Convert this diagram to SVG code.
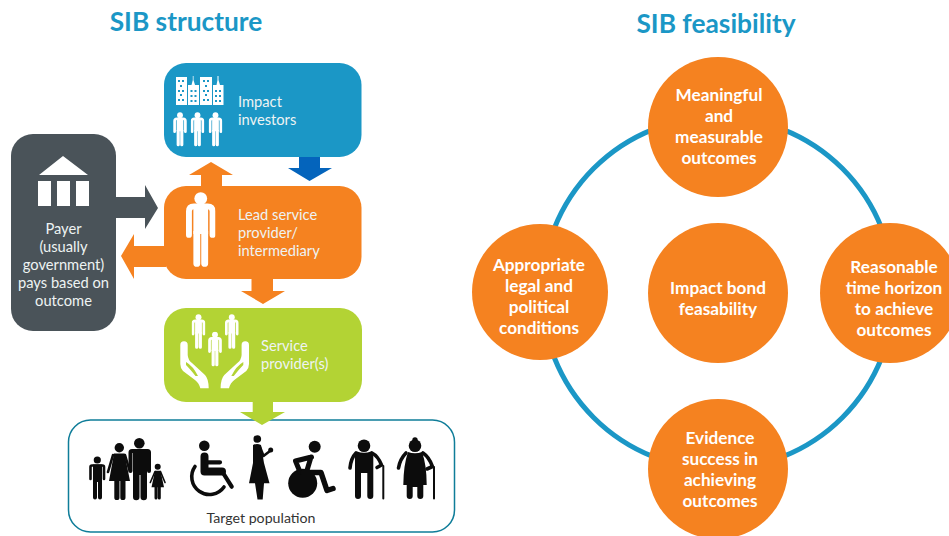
<svg xmlns="http://www.w3.org/2000/svg" xmlns:xlink="http://www.w3.org/1999/xlink" width="949" height="536" viewBox="0 0 949 536">
<style>
text{font-family:Lato,"Noto Sans","Liberation Sans",sans-serif}
.title{font-size:26.300px;font-weight:700;fill:#1b97c6;text-anchor:middle}
.lbl{font-size:14.700px;fill:#eef3f3}
.mid{text-anchor:middle}
.ct{font-size:17.200px;font-weight:700;fill:#fff;text-anchor:middle}
.o{fill:#f58220}.w{fill:#fff}.k{fill:#0c0c0c}
.ks{fill:none;stroke:#0c0c0c;stroke-linecap:round;stroke-linejoin:round}
.ring{fill:none;stroke:#1b97c6;stroke-width:5}
</style>
<defs>
<symbol id="person" viewBox="0 0 30 78">
<circle cx="15" cy="7" r="6.500" fill="#fff"/>
<path d="M3 44V20Q3 15 8 15H22Q27 15 27 20V44" fill="none" stroke="#fff" stroke-width="6" stroke-linecap="round"/>
<path d="M7.500 15H22.500V43H7.500Z" fill="#fff"/>
<path d="M7.500 40H14.500V73a3.500 3.500 0 0 1-7 0ZM15.500 40H22.500V73a3.500 3.500 0 0 1-7 0Z" fill="#fff"/>
</symbol>
<g id="win"><rect width="2" height="2"/><rect x="4" width="2" height="2"/></g>
<path id="hand" fill="#fff" fill-rule="evenodd" d="M180.300 345a3.700 3.700 0 0 1 7.400 0V355Q188 360 192 363L205 375Q208.700 379 208.700 388.300H200.300Q199 383 195 380L183 371Q180.300 368 180.300 364ZM186 362Q193 366 198 376L195.500 376Q190 369 186 365Z"/>
</defs>

<text class="title" x="186" y="31">SIB structure</text>
<text class="title" x="716" y="33">SIB feasibility</text>

<g id="connectors">
<path fill="#f58220" d="M201 186V175H189L211 162L233 175H222V186Z"/>
<path fill="#0464bc" d="M299 157H320V168H332L309.500 181L288 168H299Z"/>
<path fill="#f58220" d="M251.500 279H273V291H285L263 304L241 291H251.500Z"/>
<path fill="#4a5359" d="M116 197H145V185L158 208L145 229V218H116Z"/>
<path fill="#f58220" d="M166 246H134V234L121 256L134 279V267H166Z"/>
</g>

<g id="node-investors">
<rect x="164" y="63" width="197.500" height="94" rx="22" fill="#1b97c6"/>
<g fill="#fff">
<path d="M176 77H187V105H176ZM188 85H191.500L192.800 80V76H193.500V80L195 85H199V105H188ZM200 77H212V105H200ZM213 85H216.500L217.500 80V76H218.500V80L220 85H223.500V105H213Z"/>
</g>
<g fill="#1b97c6">
<use xlink:href="#win" x="178" y="80"/><use xlink:href="#win" x="178" y="90"/><use xlink:href="#win" x="178" y="99"/><rect x="180" y="85" width="2" height="2"/><rect x="180" y="94" width="2" height="2"/>
<use xlink:href="#win" x="190.500" y="90"/><use xlink:href="#win" x="190.500" y="95"/><use xlink:href="#win" x="190.500" y="100"/>
<use xlink:href="#win" x="203" y="80"/><use xlink:href="#win" x="203" y="90"/><use xlink:href="#win" x="203" y="99"/><rect x="205" y="85" width="2" height="2"/><rect x="205" y="94" width="2" height="2"/>
<use xlink:href="#win" x="215" y="90"/><use xlink:href="#win" x="215" y="95"/><use xlink:href="#win" x="215" y="100"/>
</g>
<use xlink:href="#person" x="173" y="112" width="14" height="35"/>
<use xlink:href="#person" x="190.500" y="112" width="14" height="35"/>
<use xlink:href="#person" x="208.500" y="112" width="14" height="35"/>
<text class="lbl" x="238" y="107">Impact</text>
<text class="lbl" x="238" y="125">investors</text>
</g>

<g id="node-lead">
<rect x="164" y="186" width="197.500" height="93" rx="22" fill="#f58220"/>
<use xlink:href="#person" x="186" y="191" width="29.500" height="78"/>
<text class="lbl" x="238" y="220">Lead service</text>
<text class="lbl" x="238" y="238">provider/</text>
<text class="lbl" x="238" y="256">intermediary</text>
</g>

<g id="node-payer">
<rect x="11" y="134" width="105" height="197" rx="22" fill="#4a5359"/>
<path class="w" d="M39 175L63 156L88 175ZM38 181H51V206H38ZM57 181H70V206H57ZM76 181H89V206H76Z"/>
<g class="lbl mid">
<text x="63.500" y="234">Payer</text>
<text x="63.500" y="252">(usually</text>
<text x="63.500" y="270">government)</text>
<text x="63.500" y="288">pays based on</text>
<text x="63.500" y="306">outcome</text>
</g>
</g>

<g id="node-population">
<rect x="68.500" y="420" width="386" height="112" rx="22" fill="#fff" stroke="#0f7d99" stroke-width="1.500"/>
<path fill="#b3d334" d="M252.700 402H273V412H285L262 425L240 412H252.700Z"/>
<g id="family" class="k">
<circle cx="119.300" cy="447.700" r="4.700"/>
<path d="M114 453.500H124.500L130 481H125.500V497.500a2.600 2.600 0 0 1-5.200 0V481H119.500V497.500a2.600 2.600 0 0 1-5.200 0V481H109Z"/>
<path class="ks" stroke-width="2.600" d="M113 455L108 472M125 455L130 472"/>
<circle cx="139.300" cy="443.300" r="5.300"/>
<path fill="#fff" d="M129 450H150V474H129Z"/>
<path d="M133 449H147V497a3 3 0 0 1-6.500 0V475H139.500V497a3 3 0 0 1-6.500 0Z"/>
<path class="ks" stroke-width="4" d="M130.500 471V452.500Q130.500 451 132 451H147.500Q149 451 149 452.500V471"/>
<circle cx="97.300" cy="460" r="3.600"/>
<path d="M93 464.500H102V497.500a2 2 0 0 1-4 0V482H97V497.500a2 2 0 0 1-4 0Z"/>
<path class="ks" stroke-width="2.600" d="M90.500 479V467Q90.500 465.500 92 465.500H102.500Q104 465.500 104 467V479"/>
<circle cx="157.700" cy="466.700" r="3"/>
<path d="M155 470.700H160.500L164 487.300H160.800V498a1.500 1.500 0 0 1-3 0V487.300H157.500V498a1.500 1.500 0 0 1-3 0V487.300H151.500Z"/>
<path class="ks" stroke-width="1.600" d="M155 471.500L150.300 482.500M160.500 471.500L165 482.500"/>
</g>
<g id="wheelchair">
<circle class="k" cx="204.300" cy="445.700" r="5.300"/>
<path class="ks" stroke-width="8" d="M204.500 456.500V471.500H222"/>
<path class="ks" stroke-width="4.200" d="M206 462.300H220M222.500 472L231.700 486.700"/>
<path class="ks" stroke-width="3.600" d="M195 466.500A15.800 15.800 0 1 0 224 487" stroke-linecap="butt"/>
</g>
<g id="woman-baby" class="k">
<circle cx="257.300" cy="439" r="3.800"/><circle cx="270.700" cy="450" r="2.500"/>
<path d="M253 445Q257 443 261 445L264 463L269.500 483.300H264L262.700 499.500H257.500L255 483.300H249L253 463Z"/>
<path class="ks" stroke-width="2.600" d="M260 447L263.500 456L270 451"/>
</g>
<g id="wheel-person">
<circle class="k" cx="314.700" cy="446.700" r="6"/>
<circle class="k" cx="302.700" cy="483.300" r="14.500"/>
<path class="ks" stroke-width="5" d="M311.500 457L295.500 461L300 472M311 457L306.500 472"/>
<path class="ks" stroke-width="5.500" d="M303 472.500H321L327 490.500L333 488.500"/>
</g>
<g id="old-man">
<circle class="k" cx="364" cy="445.700" r="6.300"/>
<path class="k" d="M357 451.500Q364 454 371 451.500L373.300 456V496a3 3 0 0 1-6 0V473H361V496a3 3 0 0 1-6 0V456Z"/>
<path class="ks" stroke-width="3.600" d="M356 453Q351 458 350 468M372 453Q378 456 381.500 465L377 467.500"/>
<path class="ks" stroke-width="2" d="M383.300 466V498.500"/>
</g>
<g id="old-woman">
<circle class="k" cx="415" cy="440" r="2.700"/><circle class="k" cx="415" cy="445.700" r="6.300"/>
<path class="k" d="M408 452Q415 454.500 422 452Q426.700 465 426.700 485H423.300V496a3 3 0 0 1-6 0V487H412.700V496a3 3 0 0 1-6 0V485H403.300Q403.500 465 408 452Z"/>
<path class="ks" stroke-width="3.600" d="M406 453Q400 459 398.500 468M423 453Q429 457 432.500 466.500L427 469"/>
<path class="ks" stroke-width="2" d="M434 467V498.500"/>
</g>
<text x="261" y="523" font-size="14.200" fill="#333" text-anchor="middle">Target population</text>
</g>

<g id="node-service">
<rect x="164" y="308" width="198" height="94" rx="22" fill="#b3d334"/>
<use xlink:href="#person" x="191.500" y="314" width="14" height="35.500"/>
<use xlink:href="#person" x="224.800" y="314" width="14" height="35.500"/>
<use xlink:href="#person" x="208" y="331.500" width="14" height="35.500"/>
<use xlink:href="#hand"/>
<use xlink:href="#hand" transform="matrix(-1 0 0 1 429.300 0)"/>
<text class="lbl" x="261" y="351">Service</text>
<text class="lbl" x="261" y="369">provider(s)</text>
</g>

<g id="connector-ring"><circle class="ring" cx="718" cy="293" r="176"/></g>

<g id="node-meaningful">
<circle class="o" cx="718" cy="127" r="70"/>
<text class="ct" x="719" y="101">Meaningful</text><text class="ct" x="719" y="122">and</text><text class="ct" x="719" y="143">measurable</text><text class="ct" x="719" y="164">outcomes</text>
</g>
<g id="node-legal">
<circle class="o" cx="540" cy="292" r="68"/>
<text class="ct" x="539" y="271">Appropriate</text><text class="ct" x="539" y="292">legal and</text><text class="ct" x="539" y="313">political</text><text class="ct" x="539" y="334">conditions</text>
</g>
<g id="node-center">
<circle class="o" cx="718" cy="293" r="70"/>
<text class="ct" x="718" y="294">Impact bond</text><text class="ct" x="718" y="315">feasability</text>
</g>
<g id="node-time">
<circle class="o" cx="890" cy="293" r="70"/>
<text class="ct" x="894" y="273">Reasonable</text><text class="ct" x="894" y="294">time horizon</text><text class="ct" x="894" y="315">to achieve</text><text class="ct" x="894" y="336">outcomes</text>
</g>
<g id="node-evidence">
<circle class="o" cx="718" cy="469" r="70"/>
<text class="ct" x="720" y="444">Evidence</text><text class="ct" x="720" y="465">success in</text><text class="ct" x="720" y="486">achieving</text><text class="ct" x="720" y="507">outcomes</text>
</g>
</svg>
